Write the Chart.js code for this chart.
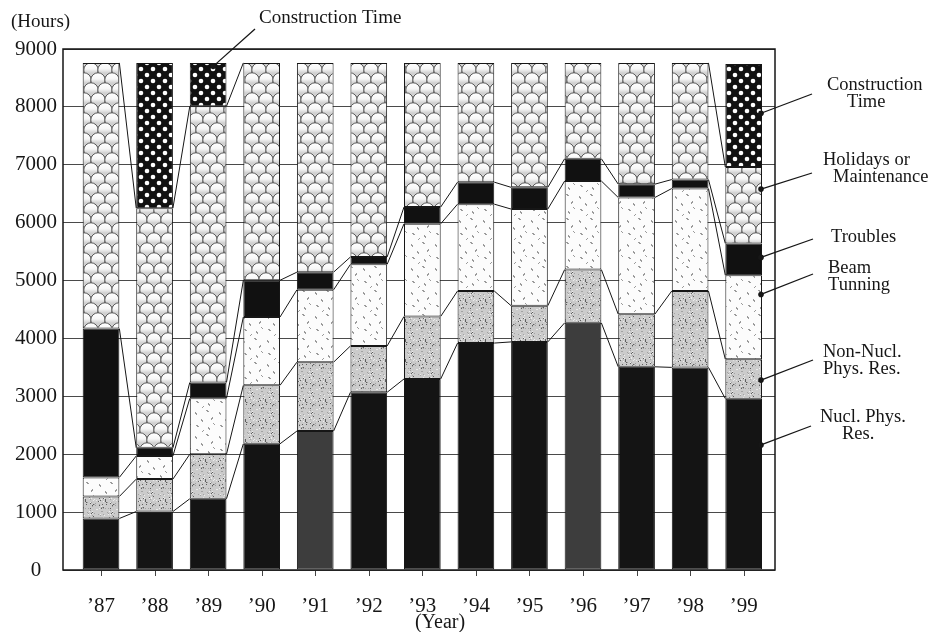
<!DOCTYPE html>
<html>
<head>
<meta charset="utf-8">
<script src="https://cdn.jsdelivr.net/npm/chart.js@4.4.1/dist/chart.umd.min.js"></script>
<style>
  body { margin: 0; background: #fff; }
  canvas { display: block; }
</style>
</head>
<body>
<canvas id="myCanvas" width="930" height="632"></canvas>
<script>
// hours per year
const years = ["\u201987", "\u201988", "\u201989", "\u201990", "\u201991", "\u201992", "\u201993",
  "\u201994", "\u201995", "\u201996", "\u201997", "\u201998", "\u201999"];
const nuclPhys     = [890, 1010, 1230, 2180, 2400, 3070, 3300, 3920, 3940, 4270, 3510, 3500, 2960];
const nonNuclPhys  = [380, 560, 770, 1010, 1190, 800, 1080, 900, 625, 920, 910, 1320, 680];
const beamTuning   = [330, 400, 965, 1180, 1250, 1410, 1600, 1500, 1670, 1530, 2015, 1770, 1450];
const troubles     = [2570, 140, 275, 635, 305, 127, 290, 380, 375, 385, 230, 155, 550];
const holidays     = [4590, 4140, 4770, 3755, 3615, 3353, 2490, 2060, 2150, 1655, 2095, 2015, 1320];
const construction = [0, 2510, 750, 0, 0, 0, 0, 0, 0, 0, 0, 0, 1780];
const yTicks = [0, 1000, 2000, 3000, 4000, 5000, 6000, 7000, 8000, 9000];

const serif = "'Liberation Serif', 'DejaVu Serif', serif";
const ink = "#161616";

function makePattern(w, h, draw) {
  const c = document.createElement("canvas");
  c.width = w;
  c.height = h;
  const g = c.getContext("2d");
  draw(g, w, h);
  return g.createPattern(c, "repeat");
}

// grey stipple (non-nuclear research)
const grayStipple = makePattern(20, 20, (g, w, h) => {
  g.fillStyle = "#cbcbcb";
  g.fillRect(0, 0, w, h);
  for (let k = 0; k < 70; k++) {
    const x = (k * 7 + (k * k) % 13) % w;
    const y = (k * 11 + (k * k * 3) % 17) % h;
    g.fillStyle = k % 3 === 0 ? "#5e5e5e" : (k % 3 === 1 ? "#ececec" : "#a2a2a2");
    g.fillRect(x, y, 1, 1);
  }
});

// white with little dashes (beam tuning)
const dashes = makePattern(24, 24, (g, w, h) => {
  g.fillStyle = "#fcfcfc";
  g.fillRect(0, 0, w, h);
  g.strokeStyle = "#3a3a3a";
  g.lineWidth = 1;
  const marks = [[3, 4, 1, 2], [14, 2, 2, 1], [9, 11, 1, 2], [20, 9, -1, 2],
    [4, 17, 2, 1], [16, 19, 1, 2], [11, 22, -1, 1], [21, 15, 1, 1]];
  marks.forEach(([x, y, dx, dy]) => {
    g.beginPath();
    g.moveTo(x + 0.5, y + 0.5);
    g.lineTo(x + dx + 0.5, y + dy + 0.5);
    g.stroke();
  });
});

// fish scales (holidays or maintenance)
const scales = makePattern(14, 20, (g, w, h) => {
  g.fillStyle = "#fff";
  g.fillRect(0, 0, w, h);
  const r = 7.2;
  for (let row = -2; row <= 3; row++) {
    const y = row * 10;
    const off = Math.abs(row) % 2 === 0 ? 0 : 7;
    for (let x = off - 14; x <= w + 14; x += 14) {
      const grad = g.createLinearGradient(0, y - r, 0, y + 3);
      grad.addColorStop(0, "#ffffff");
      grad.addColorStop(0.6, "#f7f7f7");
      grad.addColorStop(1, "#d0d0d0");
      g.fillStyle = grad;
      g.beginPath();
      g.arc(x, y, r, 0, Math.PI * 2);
      g.fill();
      g.strokeStyle = "#3a3a3a";
      g.lineWidth = 0.8;
      g.stroke();
    }
  }
});

// black with white dots (construction)
const polka = makePattern(12, 12, (g, w, h) => {
  g.fillStyle = "#111";
  g.fillRect(0, 0, w, h);
  g.fillStyle = "#fff";
  [[3, 3], [9, 9]].forEach(([x, y]) => {
    g.beginPath();
    g.arc(x, y, 2.3, 0, Math.PI * 2);
    g.fill();
  });
});

const nuclColors = nuclPhys.map((v, i) => (i === 4 || i === 9 ? "#3d3d3d" : "#141414"));

function seg(label, data, fill) {
  return {
    label: label,
    data: data,
    backgroundColor: fill,
    borderColor: ink,
    borderWidth: 1,
    borderSkipped: false,
    categoryPercentage: 1,
    barPercentage: 0.685,
  };
}

const notes = [
  { lines: ["Construction", "Time"], xs: [827, 847], y: 85, ds: 5, v: 7890, end: [812, 94] },
  { lines: ["Holidays or", "Maintenance"], xs: [823, 833], y: 160, ds: 4, v: 6580, end: [812, 173] },
  { lines: ["Troubles"], xs: [831], y: 237, ds: 3, v: 5400, end: [813, 239] },
  { lines: ["Beam", "Tunning"], xs: [828, 828], y: 268, ds: 2, v: 4760, end: [813, 274] },
  { lines: ["Non-Nucl.", "Phys. Res."], xs: [823, 823], y: 352, ds: 1, v: 3280, end: [813, 360] },
  { lines: ["Nucl. Phys.", "Res."], xs: [820, 842], y: 417, ds: 0, v: 2160, end: [811, 426] },
];

const decorations = {
  id: "decorations",
  afterDatasetsDraw(chart) {
    const ctx = chart.ctx;
    const area = chart.chartArea;
    const x = chart.scales.x;
    ctx.save();
    ctx.strokeStyle = ink;
    ctx.lineWidth = 1;
    // lines joining the segment tops of neighbouring years
    for (let d = 0; d < 5; d++) {
      const meta = chart.getDatasetMeta(d);
      for (let i = 0; i < meta.data.length - 1; i++) {
        if (d === 4 && construction[i] === 0 && construction[i + 1] === 0) continue;
        const a = meta.data[i];
        const b = meta.data[i + 1];
        ctx.beginPath();
        ctx.moveTo(a.x + a.width / 2, a.y);
        ctx.lineTo(b.x - b.width / 2, b.y);
        ctx.stroke();
      }
    }
    // small year ticks under the axis
    ctx.strokeStyle = "#444";
    years.forEach((_, i) => {
      const px = Math.round(x.getPixelForValue(i)) + 0.5;
      ctx.beginPath();
      ctx.moveTo(px, area.bottom);
      ctx.lineTo(px, area.bottom + 6);
      ctx.stroke();
    });
    ctx.strokeStyle = ink;
    ctx.lineWidth = 1.5;
    ctx.strokeRect(area.left, area.top, area.right - area.left, area.bottom - area.top);
    ctx.restore();
  },
  afterDraw(chart) {
    const ctx = chart.ctx;
    const y = chart.scales.y;
    ctx.save();
    ctx.fillStyle = ink;
    ctx.strokeStyle = ink;
    ctx.lineWidth = 1.3;
    ctx.textBaseline = "middle";
    ctx.font = "18.5px " + serif;

    const last = years.length - 1;
    notes.forEach((n) => {
      const bar = chart.getDatasetMeta(n.ds).data[last];
      const sx = bar.x + bar.width / 2 - 1;
      const sy = y.getPixelForValue(n.v);
      ctx.beginPath();
      ctx.moveTo(sx, sy);
      ctx.lineTo(n.end[0], n.end[1]);
      ctx.stroke();
      ctx.beginPath();
      ctx.arc(sx, sy, 2.8, 0, Math.PI * 2);
      ctx.fill();
      ctx.textAlign = "left";
      n.lines.forEach((t, k) => ctx.fillText(t, n.xs[k], n.y + k * 17));
    });

    // top label pointing at the '89 construction block
    const b89 = chart.getDatasetMeta(5).data[2];
    const px = b89.x + 5;
    const py = y.getPixelForValue(8700);
    ctx.beginPath();
    ctx.moveTo(px, py);
    ctx.lineTo(255, 29);
    ctx.stroke();
    ctx.beginPath();
    ctx.arc(px, py, 2.8, 0, Math.PI * 2);
    ctx.fill();
    ctx.font = "19px " + serif;
    ctx.fillText("Construction Time", 259, 18);

    ctx.font = "19px " + serif;
    ctx.fillText("(Hours)", 11, 22);
    ctx.textAlign = "center";
    ctx.font = "20px " + serif;
    ctx.fillText("(Year)", 440, 623);
    ctx.restore();
  },
};

const chartInstance = new Chart(document.getElementById("myCanvas").getContext("2d"), {
  type: "bar",
  data: {
    labels: years.map((_, i) => i),
    datasets: [
      seg("Nucl. Phys. Res.", nuclPhys, nuclColors),
      seg("Non-Nucl. Phys. Res.", nonNuclPhys, grayStipple),
      seg("Beam Tunning", beamTuning, dashes),
      seg("Troubles", troubles, "#111"),
      seg("Holidays or Maintenance", holidays, scales),
      seg("Construction Time", construction, polka),
    ],
  },
  options: {
    responsive: false,
    animation: false,
    layout: { padding: { top: 49, right: 155, left: 0, bottom: 0 } },
    plugins: {
      legend: { display: false },
      tooltip: { enabled: false },
    },
    scales: {
      x: {
        type: "linear",
        stacked: true,
        offset: false,
        min: -0.71,
        max: 12.585,
        afterBuildTicks: (axis) => {
          axis.ticks = years.map((_, i) => ({ value: i }));
        },
        afterFit: (axis) => {
          axis.height = 62;
        },
        ticks: {
          callback: (v) => years[v],
          font: { family: serif, size: 21 },
          color: ink,
          padding: 16,
          maxRotation: 0,
          autoSkip: false,
        },
        grid: { display: false },
        border: { display: false },
      },
      y: {
        stacked: true,
        min: 0,
        max: 9000,
        afterBuildTicks: (axis) => {
          axis.ticks = yTicks.map((v) => ({ value: v }));
        },
        afterFit: (axis) => {
          axis.width = 63;
        },
        ticks: {
          callback: (v) => String(v),
          font: { family: serif, size: 21 },
          color: ink,
          padding: 6,
          crossAlign: "center",
        },
        grid: { color: "#4a4a4a", lineWidth: 1, drawTicks: false },
        border: { display: false },
      },
    },
  },
  plugins: [decorations],
});
</script>
</body>
</html>
